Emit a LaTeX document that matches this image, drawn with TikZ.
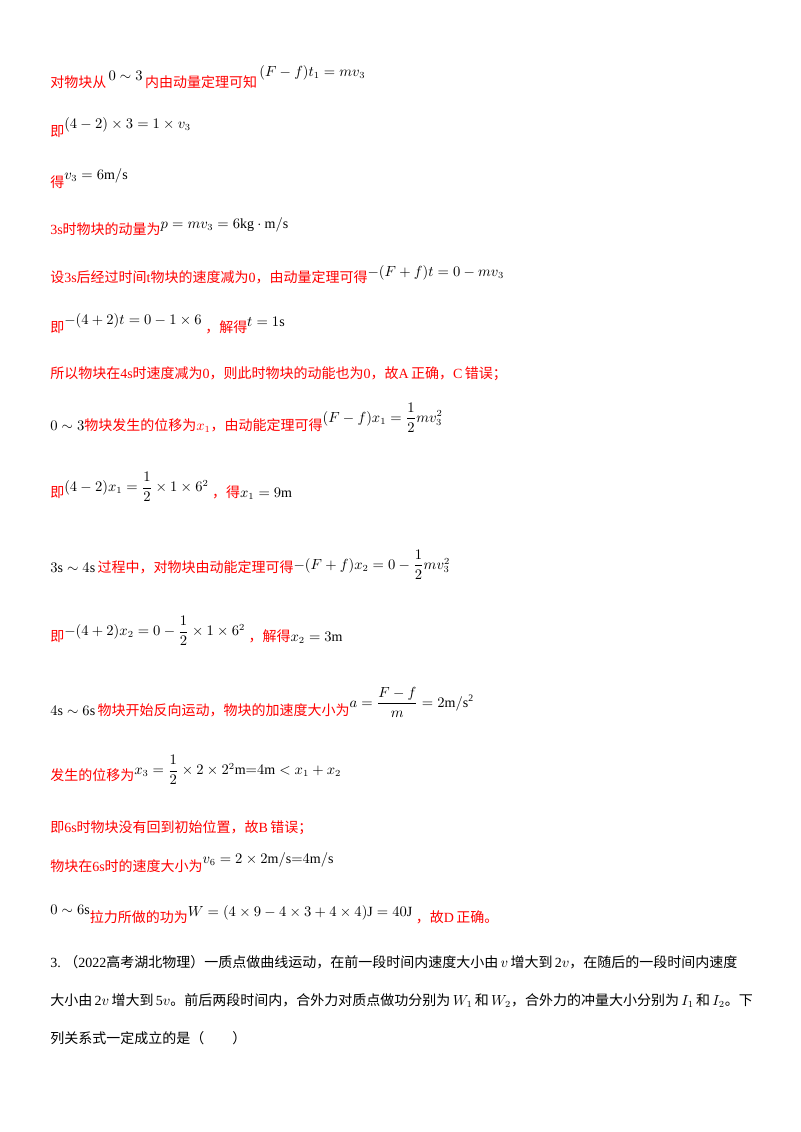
\documentclass[tikz,border=0pt]{standalone}
\usepackage{amsmath}
\usepackage{fontspec}
\setmainfont{Liberation Serif}
\newfontfamily\cjk{Noto Sans CJK SC}
\newcommand{\zh}[1]{{\cjk #1}}
\newcommand{\mm}[1]{\textcolor{black}{$#1$}}
\begin{document}
\begin{tikzpicture}[x=0.75pt,y=-0.75pt,
  ln/.style={anchor=base west,inner sep=0pt,text=red,font=\fontsize{10.5}{13}\selectfont},
  par/.style={anchor=base west,inner sep=0pt,text=black,font=\fontsize{10.5}{13}\selectfont}]
\useasboundingbox[fill=white] (0,0) rectangle (800,1132);
\node[ln] (l1) at (50,87) {\zh{对物块从}\,\raisebox{5pt}{\mm{0\sim3}}\,\zh{内由动量定理可知}\,\raisebox{8pt}{\mm{(F-f)t_1=mv_3}}};
\node[ln] (l2) at (50,136) {\zh{即}\raisebox{6pt}{\mm{(4-2)\times3=1\times v_3}}};
\node[ln] (l3) at (50,187) {\zh{得}\raisebox{6pt}{\mm{v_3=6\mathrm{m/s}}}};
\node[ln] (l4) at (50,234) {3s\zh{时物块的动量为}\raisebox{4pt}{\mm{p=mv_3=6\mathrm{kg\cdot m/s}}}};
\node[ln] (l5) at (50,282) {\zh{设}3s\zh{后经过时间}t\zh{物块的速度减为}0\zh{，由动量定理可得}\raisebox{4pt}{\mm{-(F+f)t=0-mv_3}}};
\node[ln] (l6) at (50,332) {\zh{即}\raisebox{6pt}{\mm{-(4+2)t=0-1\times6}}\ \zh{，解得}\raisebox{4pt}{\mm{t=1\mathrm{s}}}};
\node[ln] (l7) at (50,378) {\zh{所以物块在}4s\zh{时速度减为}0\zh{，则此时物块的动能也为}0\zh{，故}A\,\zh{正确，}C\,\zh{错误；}};
\node[ln] (l8) at (50,430) {\mm{0\sim3}\zh{物块发生的位移为}$x_1$\zh{，由动能定理可得}\raisebox{6pt}{\mm{(F-f)x_1=\dfrac12 mv_3^2}}};
\node[ln] (l9) at (50,497) {\zh{即}\raisebox{4pt}{\mm{(4-2)x_1=\dfrac12\times1\times6^2}}\ \zh{，得}\mm{x_1=9\mathrm{m}}};
\node[ln] (l10) at (50,572) {\mm{3\mathrm{s}\sim4\mathrm{s}}\,\zh{过程中，对物块由动能定理可得}\raisebox{2pt}{\mm{-(F+f)x_2=0-\dfrac12 mv_3^2}}};
\node[ln] (l11) at (50,641) {\zh{即}\raisebox{4pt}{\mm{-(4+2)x_2=0-\dfrac12\times1\times6^2}}\ \zh{，解得}\mm{x_2=3\mathrm{m}}};
\node[ln] (l12) at (50,715) {\mm{4\mathrm{s}\sim6\mathrm{s}}\,\zh{物块开始反向运动，物块的加速度大小为}\raisebox{6pt}{\mm{a=\dfrac{F-f}{m}=2\mathrm{m/s^2}}}};
\node[ln] (l13) at (50,780) {\zh{发生的位移为}\raisebox{4pt}{\mm{x_3=\dfrac12\times2\times2^2\mathrm{m}{=}4\mathrm{m}<x_1+x_2}}};
\node[ln] (l14) at (50,832) {\zh{即}6s\zh{时物块没有回到初始位置，故}B\,\zh{错误；}};
\node[ln] (l15) at (50,871) {\zh{物块在}6s\zh{时的速度大小为}\raisebox{6pt}{\mm{v_6=2\times2\mathrm{m/s}{=}4\mathrm{m/s}}}};
\node[ln] (l16) at (50,922) {\raisebox{6pt}{\mm{0\sim6\mathrm{s}}}\zh{拉力所做的功为}\raisebox{4pt}{\mm{W=(4\times9-4\times3+4\times4)\mathrm{J}=40\mathrm{J}}}\ \zh{，故}D\,\zh{正确。}};
\node[par] (p1) at (50,967) {3.\ \zh{（}2022\zh{高考湖北物理）一质点做曲线运动，在前一段时间内速度大小由}\,$v$\,\zh{增大到}\,2$v$\zh{，在随后的一段时间内速度}};
\node[par] (p2) at (50,1005) {\zh{大小由}\,2$v$\,\zh{增大到}\,5$v$\zh{。前后两段时间内，合外力对质点做功分别为}\,$W_1$\,\zh{和}\,$W_2$\zh{，合外力的冲量大小分别为}\,$I_1$\,\zh{和}\,$I_2$\zh{。下}};
\node[par] (p3) at (50,1043) {\zh{列关系式一定成立的是（\qquad）}};
\end{tikzpicture}
\end{document}
